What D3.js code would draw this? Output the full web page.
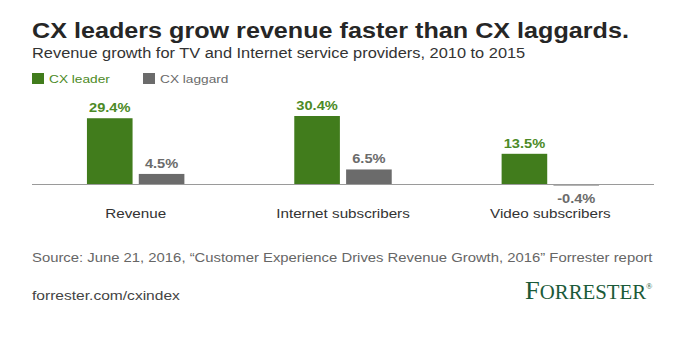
<!DOCTYPE html>
<html>
<head>
<meta charset="utf-8">
<script src="https://d3js.org/d3.v7.min.js"></script>
<style>
  body { margin: 0; background: #fff; }
</style>
</head>
<body>
<script>
var categories = ["Revenue", "Internet subscribers", "Video subscribers"];
var seriesNames = ["CX leader", "CX laggard"];
var leader = [29.4, 30.4, 13.5];
var laggard = [4.5, 6.5, -0.4];
var colors = ["#417c1c", "#6b6b6b"];
var labelColors = ["#4c8a26", "#6b6b6b"];

var width = 682, height = 344;
var svg = d3.select("body").append("svg")
    .attr("width", width)
    .attr("height", height)
    .attr("font-family", "Liberation Sans, Arial, sans-serif");

// the reference type is set a bit wider than Arial, so stretch texts sideways
function stretch(sel, k) {
    sel.each(function() {
        var w = this.getComputedTextLength();
        d3.select(this).attr("textLength", w * k).attr("lengthAdjust", "spacingAndGlyphs");
    });
}
var K = 1.17;

// titles
svg.append("text")
    .attr("x", 32).attr("y", 38)
    .attr("font-size", 21.5).attr("font-weight", "bold").attr("fill", "#262626")
    .text("CX leaders grow revenue faster than CX laggards.")
    .call(stretch, K);
svg.append("text")
    .attr("x", 32).attr("y", 58)
    .attr("font-size", 14).attr("fill", "#333")
    .text("Revenue growth for TV and Internet service providers, 2010 to 2015")
    .call(stretch, K);

// legend
var legend = svg.append("g").attr("transform", "translate(32,73)");
var legX = [0, 111];
seriesNames.forEach(function(name, i) {
    legend.append("rect").attr("x", legX[i]).attr("y", 0).attr("width", 12).attr("height", 11).attr("fill", colors[i]);
    legend.append("text").attr("x", legX[i] + 17).attr("y", 10)
        .attr("font-size", 11.7).attr("fill", labelColors[i]).text(name)
        .call(stretch, K);
});

// chart
var chartLeft = 32, chartRight = 654, zeroY = 184;
var x0 = d3.scaleBand().domain(categories).range([chartLeft, chartRight]).paddingInner(0.53).paddingOuter(0.265);
var x1 = d3.scaleBand().domain(seriesNames).range([0, x0.bandwidth()]).paddingInner(0.12);
var y = d3.scaleLinear().domain([0, 30.4]).range([zeroY, zeroY - 68]);

var rows = categories.map(function(c, i) { return { cat: c, vals: [leader[i], laggard[i]] }; });
function pairs(d) { return d.vals.map(function(v, i) { return { key: seriesNames[i], v: v, i: i }; }); }

var groups = svg.selectAll("g.grp").data(rows).enter().append("g")
    .attr("class", "grp")
    .attr("transform", function(d) { return "translate(" + x0(d.cat) + ",0)"; });

groups.selectAll("rect").data(pairs)
    .enter().append("rect")
    .attr("x", function(d) { return x1(d.key); })
    .attr("width", x1.bandwidth())
    .attr("y", function(d) { return d.v >= 0 ? y(d.v) : y(0); })
    .attr("height", function(d) { return Math.max(Math.abs(y(d.v) - y(0)), 1.5); })
    .attr("fill", function(d) { return colors[d.i]; });

groups.selectAll("text.val").data(pairs)
    .enter().append("text")
    .attr("class", "val")
    .attr("x", function(d) { return x1(d.key) + x1.bandwidth() / 2; })
    .attr("y", function(d) { return d.v >= 0 ? y(d.v) - 6 : y(0) + 19; })
    .attr("text-anchor", "middle")
    .attr("font-size", 12.5).attr("font-weight", "bold")
    .attr("fill", function(d) { return labelColors[d.i]; })
    .text(function(d) { return d.v.toFixed(1) + "%"; })
    .call(stretch, K);

// baseline
svg.append("line")
    .attr("x1", chartLeft).attr("x2", chartRight)
    .attr("y1", y(0) + 0.5).attr("y2", y(0) + 0.5)
    .attr("stroke", "#9a9a9a").attr("stroke-width", 1);

// category axis
var xAxis = svg.append("g")
    .attr("transform", "translate(0," + (y(0) + 19) + ")")
    .call(d3.axisBottom(x0).tickSize(0).tickPadding(6));
xAxis.select(".domain").remove();
xAxis.selectAll("text").attr("font-size", 13).attr("fill", "#333")
    .attr("font-family", "Liberation Sans, Arial, sans-serif")
    .call(stretch, K);

// footer
svg.append("text")
    .attr("x", 32).attr("y", 262)
    .attr("font-size", 12.7).attr("fill", "#666")
    .text("Source: June 21, 2016, \u201cCustomer Experience Drives Revenue Growth, 2016\u201d Forrester report")
    .call(stretch, K);
svg.append("text")
    .attr("x", 32).attr("y", 300)
    .attr("font-size", 13.3).attr("fill", "#444")
    .text("forrester.com/cxindex")
    .call(stretch, K);

var logo = svg.append("text")
    .attr("x", 525).attr("y", 299)
    .attr("font-family", "Liberation Serif, Times New Roman, serif")
    .attr("fill", "#1b5a39");
logo.append("tspan").attr("font-size", 25.5).text("F");
logo.append("tspan").attr("font-size", 20).text("ORRESTER");
logo.append("tspan").attr("font-size", 8).attr("dy", -10).text("\u00ae");
logo.call(stretch, 1.04);
</script>
</body>
</html>
